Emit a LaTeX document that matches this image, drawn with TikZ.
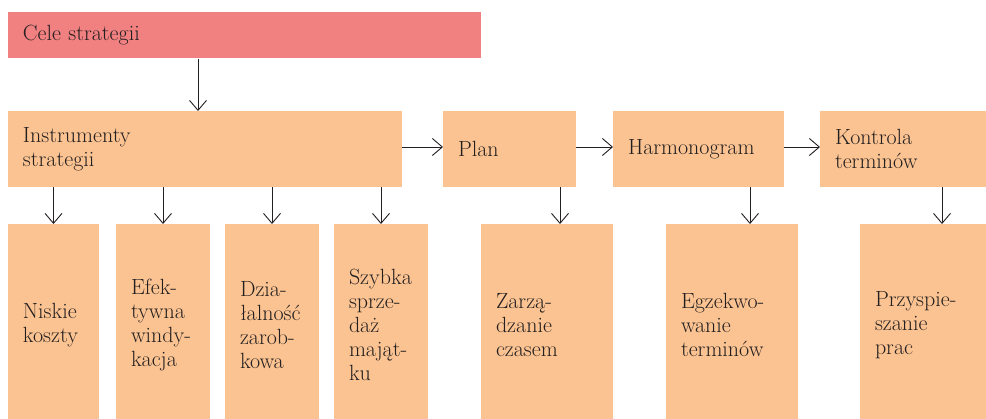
\documentclass[tikz,border=0pt]{standalone}
\usepackage{fontspec}
\usetikzlibrary{arrows.meta}
\definecolor{rosa}{HTML}{F18081}
\definecolor{pfirsich}{HTML}{FBC391}
\definecolor{tinte}{HTML}{231F20}
\begin{document}
\begin{tikzpicture}[x=1pt,y=-1pt,
	box/.style={rectangle,fill=pfirsich,inner xsep=15pt,inner ysep=0pt,align=left,text=tinte,text width=#1,font=\fontsize{22}{24}\selectfont},
	pfeil/.style={draw=tinte,line width=0.9pt,-{Straight Barb[length=10pt,width=17pt,line join=round]}}]
	\def\yOben{149}
	\def\yUnten{325}
	\useasboundingbox (0,0) rectangle (986,419);
	\clip (0,0) rectangle (986,419);
	%
	\node[box=443pt,fill=rosa,minimum height=46.5pt] (cele) at (244.5,35.25) {Cele strategii};
	%
	\node[box=364pt,minimum height=76pt] (instr) at (205,\yOben) {Instrumenty\\strategii};
	\node[box=103pt,minimum height=76pt] (plan) at (509.5,\yOben) {Plan};
	\node[box=141pt,minimum height=76pt] (harm) at (698.5,\yOben) {Harmonogram};
	\node[box=141pt,minimum height=76pt] (kontr) at (905.5,\yOben) {Kontrola\\terminów};
	%
	\node[box=61pt,minimum height=202pt] (niskie) at (53.5,\yUnten) {Niskie\\koszty};
	\node[box=64pt,minimum height=202pt] (windyk) at (163,\yUnten) {Efek-\\tywna\\windy-\\kacja};
	\node[box=64pt,minimum height=202pt] (dzial) at (272,\yUnten) {Dzia-\\łalność\\zarob-\\kowa};
	\node[box=64pt,minimum height=202pt] (sprzed) at (381,\yUnten) {Szybka\\sprze-\\daż\\mająt-\\ku};
	\node[box=102pt,minimum height=202pt] (zarz) at (547,\yUnten) {Zarzą-\\dzanie\\czasem};
	\node[box=102pt,minimum height=202pt] (egzek) at (732,\yUnten) {Egzekwo-\\wanie\\terminów};
	\node[box=102pt,minimum height=202pt] (przysp) at (926,\yUnten) {Przyspie-\\szanie\\prac};
	%
	\draw[pfeil] ([xshift=-7pt]instr.north |- cele.south) -- ([xshift=-7pt]instr.north);
	\draw[pfeil] ([yshift=2pt]instr.east) -- ([yshift=2pt]plan.west);
	\draw[pfeil] ([yshift=2pt]plan.east) -- ([yshift=2pt]harm.west);
	\draw[pfeil] ([yshift=2pt]harm.east) -- ([yshift=2pt]kontr.west);
	%
	\draw[pfeil] (instr.south -| niskie.north) -- (niskie.north);
	\draw[pfeil] (instr.south -| windyk.north) -- (windyk.north);
	\draw[pfeil] (instr.south -| dzial.north) -- (dzial.north);
	\draw[pfeil] (instr.south -| sprzed.north) -- (sprzed.north);
	\draw[pfeil] ([xshift=13pt]zarz.north |- plan.south) -- ([xshift=13pt]zarz.north);
	\draw[pfeil] ([xshift=18pt]egzek.north |- harm.south) -- ([xshift=18pt]egzek.north);
	\draw[pfeil] ([xshift=16pt]przysp.north |- kontr.south) -- ([xshift=16pt]przysp.north);
	%
\end{tikzpicture}
\end{document}
